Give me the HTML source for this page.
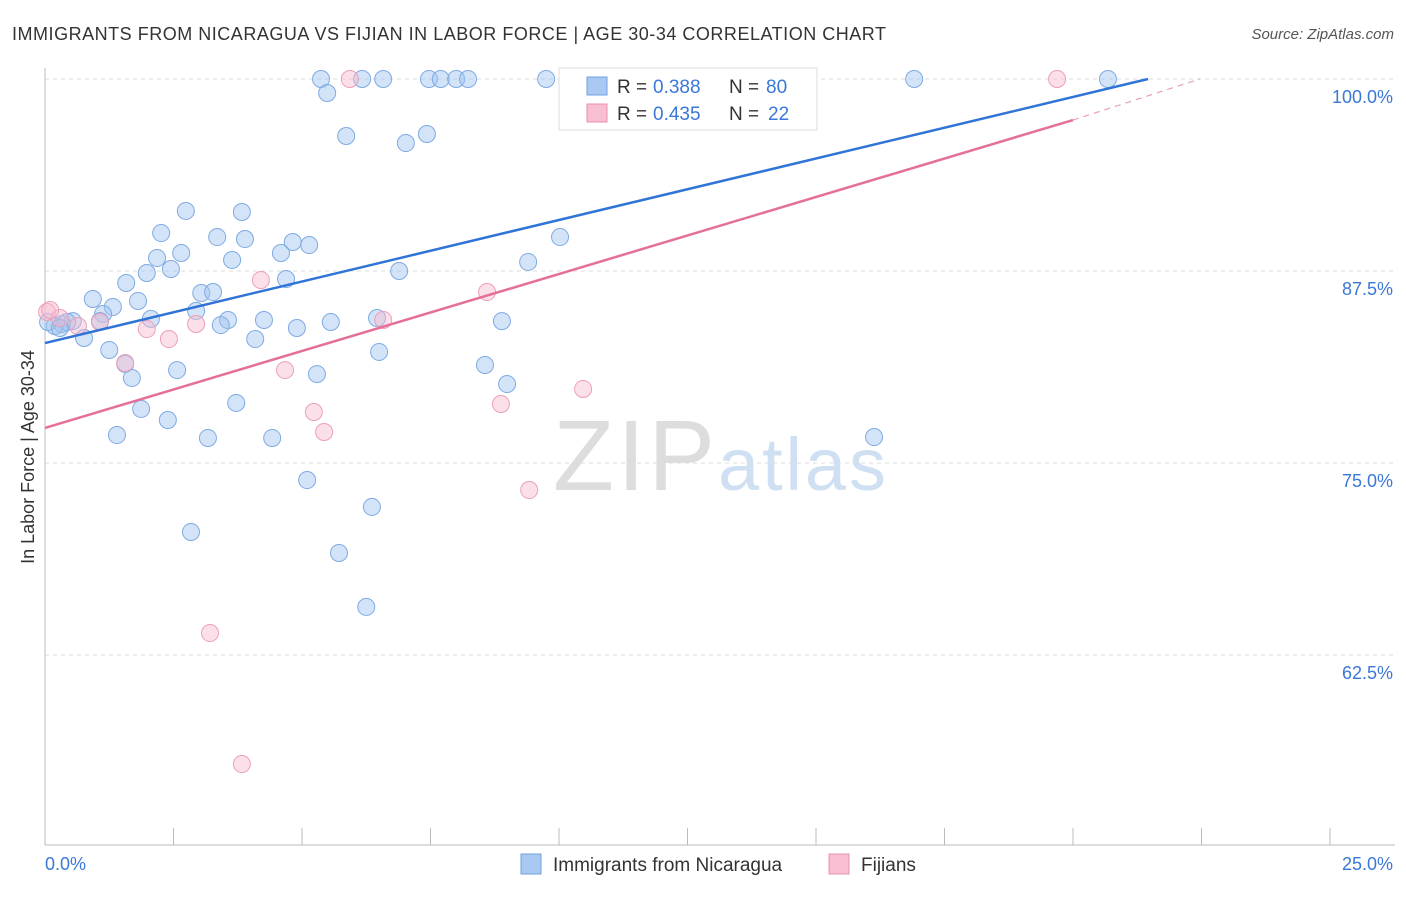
<!DOCTYPE html>
<html><head><meta charset="utf-8"><style>
body{margin:0;background:#fff;font-family:"Liberation Sans",sans-serif;}
svg text{font-family:"Liberation Sans",sans-serif;}
</style></head><body>
<svg id="chart" width="1406" height="892">
<text x="12" y="40" font-size="18" fill="#333" textLength="874">IMMIGRANTS FROM NICARAGUA VS FIJIAN IN LABOR FORCE | AGE 30-34 CORRELATION CHART</text>
<text x="1394" y="39" font-size="15" fill="#555" text-anchor="end" font-style="italic">Source: ZipAtlas.com</text>
<g>
<text x="553" y="490" font-size="100" fill="#ddd" font-family="Liberation Serif,serif" textLength="162">ZIP</text>
<text x="718" y="490" font-size="74" fill="#cfe0f3" textLength="168">atlas</text>
</g>
<g id="grid"></g><g id="axes"></g><g id="pts"></g><g id="lines"></g>
<text transform="translate(34,457) rotate(-90)" font-size="18" fill="#333" text-anchor="middle">In Labor Force | Age 30-34</text>
<text x="45" y="870" font-size="18" fill="#3a78d8">0.0%</text>
<text x="1393" y="870" font-size="18" fill="#3a78d8" text-anchor="end">25.0%</text>
<g>
<rect x="559" y="68" width="258" height="62" fill="#fff" stroke="#ddd"/>
<rect x="587" y="77" width="20" height="18" fill="#a9c9f2" stroke="#6fa0e0"/>
<rect x="587" y="104" width="20" height="18" fill="#f7bfd1" stroke="#e890aa"/>
<text x="617" y="93" font-size="19" fill="#333">R =</text>
<text x="653" y="93" font-size="19" fill="#3a78d8">0.388</text>
<text x="729" y="93" font-size="19" fill="#333">N =</text>
<text x="766" y="93" font-size="19" fill="#3a78d8">80</text>
<text x="617" y="120" font-size="19" fill="#333">R =</text>
<text x="653" y="120" font-size="19" fill="#3a78d8">0.435</text>
<text x="729" y="120" font-size="19" fill="#333">N =</text>
<text x="768" y="120" font-size="19" fill="#3a78d8">22</text>
</g>
<g>
<rect x="521" y="854" width="20" height="20" fill="#a9c9f2" stroke="#6fa0e0"/>
<text x="553" y="871" font-size="19" fill="#333">Immigrants from Nicaragua</text>
<rect x="829" y="854" width="20" height="20" fill="#f7bfd1" stroke="#e890aa"/>
<text x="861" y="871" font-size="19" fill="#333">Fijians</text>
</g>
</svg>
<script>
const blueX=[5.37,5.49,6.17,6.58,7.47,7.70,8.00,8.23,9.75,10.74,10.41,16.91,20.68,5.86,7.02,7.43,2.74,3.83,2.26,3.35,3.89,4.82,5.14,2.65,2.18,3.64,4.59,1.98,2.45,4.69,6.89,9.40,10.02,1.58,0.93,1.81,1.32,3.04,3.27,1.13,2.94,2.06,3.56,4.26,4.90,5.56,6.46,8.89,3.42,0.54,0.33,0.19,0.06,0.43,1.07,0.76,4.09,1.25,6.50,1.56,2.57,5.29,8.56,1.69,8.99,3.72,1.87,2.39,1.40,3.17,4.42,16.13,5.10,6.36,2.84,5.72,6.25,0.29];
const blueY=[100,99.09,100,100,100,100,100,100,100,100,98.57,100,100,96.29,95.83,96.42,91.41,91.34,89.97,89.71,89.58,89.39,89.19,88.67,88.35,88.22,88.67,87.37,87.63,86.98,87.5,88.09,89.71,86.72,85.68,85.55,85.16,86.07,86.13,84.7,84.9,84.38,84.31,84.31,83.79,84.18,84.44,84.24,83.98,84.24,84.05,83.92,84.18,84.18,84.24,83.14,83.07,82.36,82.23,81.45,81.05,80.79,81.38,80.53,80.14,78.91,78.52,77.8,76.82,76.63,76.63,76.69,73.89,72.14,70.51,69.14,65.63,83.79];
const pinkX=[0.04,5.93,19.69,4.20,8.60,1.07,1.98,2.41,2.94,6.58,1.56,4.67,5.23,5.43,8.87,10.47,9.42,3.21,3.83,0.64,0.29,0.10];
const pinkY=[84.83,100,100,86.91,86.13,84.18,83.72,83.07,84.05,84.31,81.51,81.05,78.32,77.02,78.84,79.82,73.24,63.93,55.40,83.92,84.44,84.96];
const yTicks=[100,87.5,75,62.5];
const yTickLabels=["100.0%","87.5%","75.0%","62.5%"];
const blueTrend=[[0,82.81],[21.46,100]];
const pinkTrend=[[0,77.28],[20.0,97.33]];
const pinkDash=[[20.0,97.33],[22.47,100]];
const sx=v=>45+v/25*1285, sy=v=>79+(100-v)/12.5*192;
const NS="http://www.w3.org/2000/svg";
function mk(p,t,a){const e=document.createElementNS(NS,t);for(const k in a)e.setAttribute(k,a[k]);document.getElementById(p).appendChild(e);return e;}
yTicks.forEach((v,i)=>{
 const l=mk('grid','line',{x1:45,x2:1395,y1:sy(v),y2:sy(v),stroke:'#ddd','stroke-dasharray':'4,4'});
 
 
 const t=mk('grid','text',{x:1393,y:sy(v)+24,'font-size':18,fill:'#3a78d8','text-anchor':'end'});
 t.textContent=yTickLabels[i];
 
 
});
let a=mk('axes','line',{x1:45,x2:45,y1:68,y2:845,stroke:'#bbb'});


a=mk('axes','line',{x1:45,x2:1395,y1:845,y2:845,stroke:'#bbb'});


for(let i=1;i<=10;i++){const t=mk('axes','line',{x1:sx(i*2.5),x2:sx(i*2.5),y1:828,y2:845,stroke:'#bbb'});
 
 }
blueX.forEach((x,i)=>{const c=mk('pts','circle',{cx:sx(x),cy:sy(blueY[i]),r:8.5,fill:'rgba(160,196,240,0.45)',stroke:'#7eaae4','stroke-width':1});
 
 });
pinkX.forEach((x,i)=>{const c=mk('pts','circle',{cx:sx(x),cy:sy(pinkY[i]),r:8.5,fill:'rgba(246,186,206,0.45)',stroke:'#eca0b8','stroke-width':1});
 
 });
let ln=mk('lines','line',{x1:sx(blueTrend[0][0]),y1:sy(blueTrend[0][1]),x2:sx(blueTrend[1][0]),y2:sy(blueTrend[1][1]),stroke:'#2f74d6','stroke-width':2.5});


ln=mk('lines','line',{x1:sx(pinkTrend[0][0]),y1:sy(pinkTrend[0][1]),x2:sx(pinkTrend[1][0]),y2:sy(pinkTrend[1][1]),stroke:'#e56f9b','stroke-width':2.5});


ln=mk('lines','line',{x1:sx(pinkDash[0][0]),y1:sy(pinkDash[0][1]),x2:sx(pinkDash[1][0]),y2:sy(pinkDash[1][1]),stroke:'#eaa0bb','stroke-width':1.2,'stroke-dasharray':'6,5'});


</script>
</body></html>
